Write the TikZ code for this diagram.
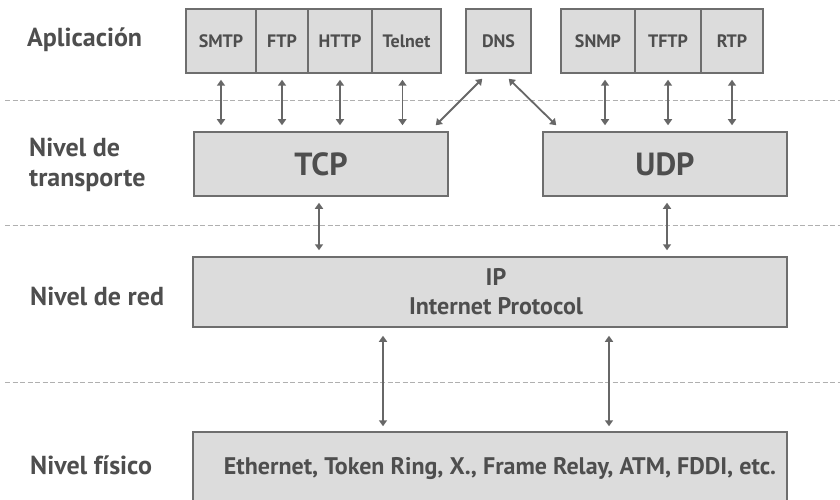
\documentclass[tikz,border=0pt]{standalone}
\usepackage{fontspec}
\setmainfont{PT Sans}
\usetikzlibrary{arrows.meta,calc}
\definecolor{boxfill}{HTML}{DCDCDC}
\definecolor{boxline}{HTML}{6E6E6E}
\definecolor{txt}{HTML}{4E4E4E}
\definecolor{dashc}{HTML}{B0B0B0}
\definecolor{arr}{HTML}{676767}
\begin{document}
\begin{tikzpicture}[x=1pt,y=-1pt,
 box/.style={draw=boxline,fill=boxfill,line width=1.5pt,inner sep=0pt,text=txt},
 proto/.style={box,minimum height=64pt,font=\fontsize{18}{20}\selectfont\bfseries},
 big/.style={box,minimum height=64pt,font=\fontsize{32}{34}\selectfont\bfseries},
 lvl/.style={anchor=base west,text=txt,inner sep=0pt,font=\fontsize{26}{30}\selectfont\bfseries},
 sep/.style={draw=dashc,line width=0.9pt,dash pattern=on 5pt off 2.5pt},
 link/.style={draw=arr,line width=1.8pt,{Triangle[width=8pt,length=6pt]}-{Triangle[width=8pt,length=6pt]},shorten <=6pt,shorten >=6pt}
]
\useasboundingbox (0,0) rectangle (840,500);
\clip (0,0) rectangle (840,500);
\fill[white] (0,0) rectangle (840,500);

% separators
\coordinate (s1a) at (5,100);  \coordinate (s1b) at (840,100);
\coordinate (s2a) at (5,225);  \coordinate (s2b) at (840,225);
\coordinate (s3a) at (5,382);  \coordinate (s3b) at (840,382);
\draw[sep] (s1a) -- (s1b);
\draw[sep] (s2a) -- (s2b);
\draw[sep] (s3a) -- (s3b);

% level labels
\node[lvl] (lapp) at (27,47) {Aplicación};
\node[lvl] (ltr1) at (29,156) {Nivel de};
\node[lvl] (ltr2) at (29,186) {transporte};
\node[lvl] (lred) at (30,305) {Nivel de red};
\node[lvl] (lfis) at (30,474) {Nivel físico};

% application protocols
\node[proto,minimum width=70pt] (smtp) at (221,41) {SMTP};
\node[proto,minimum width=52pt] (ftp) at (282,41) {FTP};
\node[proto,minimum width=64pt] (http) at (340,41) {HTTP};
\node[proto,minimum width=69pt] (telnet) at (406.5,41) {Telnet};
\node[proto,minimum width=65pt] (dns) at (498.5,41) {DNS};
\node[proto,minimum width=74pt] (snmp) at (598,41) {SNMP};
\node[proto,minimum width=66pt] (tftp) at (668,41) {TFTP};
\node[proto,minimum width=62pt] (rtp) at (732,41) {RTP};

% transport
\node[big,minimum width=254pt] (tcp) at (321,164) {TCP};
\node[big,minimum width=244pt] (udp) at (665,164) {UDP};

% network
\node[box,minimum width=594pt,minimum height=70pt,align=center,
      font=\fontsize{24}{29}\selectfont\bfseries] (ip) at (490,292) {\hspace*{12pt}IP\\\hspace*{12pt}Internet Protocol};

% physical
\node[box,minimum width=594pt,minimum height=78pt] (phys) at (490,471) {};
\node[text=txt,inner sep=0pt,font=\fontsize{24}{26}\selectfont\bfseries] (physt) at (500,469) {Ethernet, Token Ring, X., Frame Relay, ATM, FDDI, etc.};

% arrows application -> transport
\draw[link] (smtp.south) -- (smtp.south |- tcp.north);
\draw[link] (ftp.south) -- (ftp.south |- tcp.north);
\draw[link] (http.south) -- (http.south |- tcp.north);
\draw[link] ($(telnet.south)+(-4,0)$) -- ($(telnet.south |- tcp.north)+(-4,0)$);
\draw[link] ($(snmp.south)+(7,0)$) -- ($(snmp.south |- udp.north)+(7,0)$);
\draw[link] (tftp.south) -- (tftp.south |- udp.north);
\draw[link] (rtp.south) -- (rtp.south |- udp.north);
\draw[link,shorten <=0pt,shorten >=0pt] ($(dns.south west)+(17,5)$) -- ($(tcp.north east)+(-13,-6)$);
\draw[link,shorten <=0pt,shorten >=0pt] ($(dns.south east)+(-23,5)$) -- ($(udp.north west)+(14,-6)$);

% transport -> network
\draw[link] ($(tcp.south)+(-2,0)$) -- ($(tcp.south |- ip.north)+(-2,0)$);
\draw[link] ($(udp.south)+(2,0)$) -- ($(udp.south |- ip.north)+(2,0)$);

% network -> physical
\draw[link,shorten <=8pt,shorten >=5pt] ($(ip.south)+(-107,0)$) -- ($(ip.south |- phys.north)+(-107,0)$);
\draw[link,shorten <=8pt,shorten >=5pt] ($(ip.south)+(119,0)$) -- ($(ip.south |- phys.north)+(119,0)$);
\end{tikzpicture}
\end{document}
